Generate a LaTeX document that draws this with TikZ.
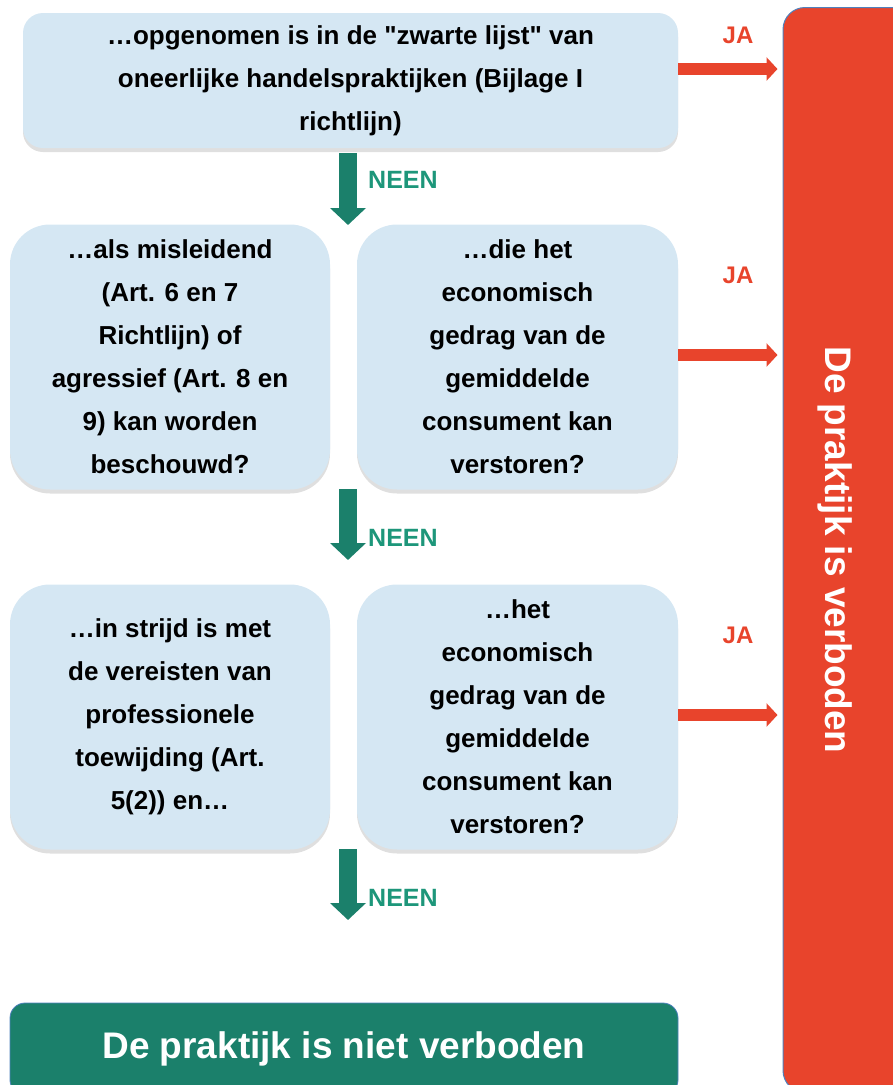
\documentclass[tikz,border=0pt]{standalone}
\usepackage{fontspec}
\setmainfont{Liberation Sans}
\usetikzlibrary{arrows.meta,shadows,calc}
\definecolor{boxblue}{RGB}{213,231,243}
\definecolor{nogreen}{RGB}{27,128,107}
\definecolor{neengreen}{RGB}{29,150,122}
\definecolor{jared}{RGB}{232,68,44}
\definecolor{edgeblue}{RGB}{79,129,189}
\tikzstyle{question}=[fill=boxblue,rounded corners=40pt,align=center,inner sep=0pt,minimum width=320pt,minimum height=265pt,font=\fontsize{26}{43}\selectfont\bfseries,drop shadow={shadow xshift=0pt,shadow yshift=-4pt,opacity=0.25}]
\tikzstyle{neenarrow}=[draw=nogreen,line width=18pt,-{Triangle[width=35pt,length=17pt]}]
\tikzstyle{jaarrow}=[draw=jared,line width=12pt,-{Triangle[width=23pt,length=11pt]},shorten >=5pt]
\tikzstyle{neenlabel}=[anchor=west,inner sep=0pt,text=neengreen,font=\fontsize{25}{30}\selectfont\bfseries]
\tikzstyle{jalabel}=[inner sep=0pt,text=jared,font=\fontsize{24}{28}\selectfont\bfseries]

\begin{document}
\begin{tikzpicture}[x=1pt,y=-1pt]
   \useasboundingbox (0,0) rectangle (893,1085);

   % red result box on the right
   \node[fill=jared,draw=edgeblue,line width=1pt,rounded corners=22pt,minimum width=150pt,minimum height=1085pt,inner sep=0pt] (verboden) at (858,550) {};
   \node[rotate=-90,text=white,font=\fontsize{37}{40}\selectfont\bfseries] (verbodentekst) at (835,550) {De praktijk is verboden};

   % questions
   \node[question,minimum width=655pt,minimum height=135pt,rounded corners=20pt] (zwart) at (350.5,80.5)
      {…opgenomen is in de \textquotedbl zwarte lijst\textquotedbl{} van\\ oneerlijke handelspraktijken (Bijlage I\\ richtlijn)};
   \node[question] (misleidend) at (170,357)
      {…als misleidend\\ (Art. 6 en 7\\ Richtlijn) of\\ agressief (Art. 8 en\\ 9) kan worden\\ beschouwd?};
   \node[question,minimum width=321pt] (gedrag1) at (517.5,357)
      {…die het\\ economisch\\ gedrag van de\\ gemiddelde\\ consument kan\\ verstoren?};
   \node[question] (strijd) at (170,717)
      {…in strijd is met\\ de vereisten van\\ professionele\\ toewijding (Art.\\ 5(2)) en…};
   \node[question,minimum width=321pt] (gedrag2) at (517.5,717)
      {…het\\ economisch\\ gedrag van de\\ gemiddelde\\ consument kan\\ verstoren?};

   % green result box at the bottom
   \node[fill=nogreen,draw=edgeblue,line width=0.8pt,rounded corners=15pt,minimum width=668pt,minimum height=92pt,text=white,font=\fontsize{37}{40}\selectfont\bfseries] (nietverboden) at (344,1049) {De praktijk is niet verboden};

   % NEEN arrows
   \foreach \ystart/ \yend/ \ylabel/ \name in {153/225/180/1, 489/560/538/2, 849/920/898/3} {
      \coordinate (neenstart\name) at (348,\ystart);
      \coordinate (neenend\name) at (348,\yend);
      \draw[neenarrow] (neenstart\name) -- (neenend\name);
      \node[neenlabel] (neen\name) at (368,\ylabel) {NEEN};
   }

   % JA arrows
   \foreach \src/ \dy/ \ylabel/ \name in {zwart/11.5/35/1, gedrag1/2/275/2, gedrag2/2/635/3} {
      \coordinate (jastart\name) at ([yshift=\dy pt]\src.east);
      \draw[jaarrow] (jastart\name) -- (jastart\name -| verboden.west);
      \node[jalabel] (ja\name) at (738,\ylabel) {JA};
   }
\end{tikzpicture}
\end{document}
